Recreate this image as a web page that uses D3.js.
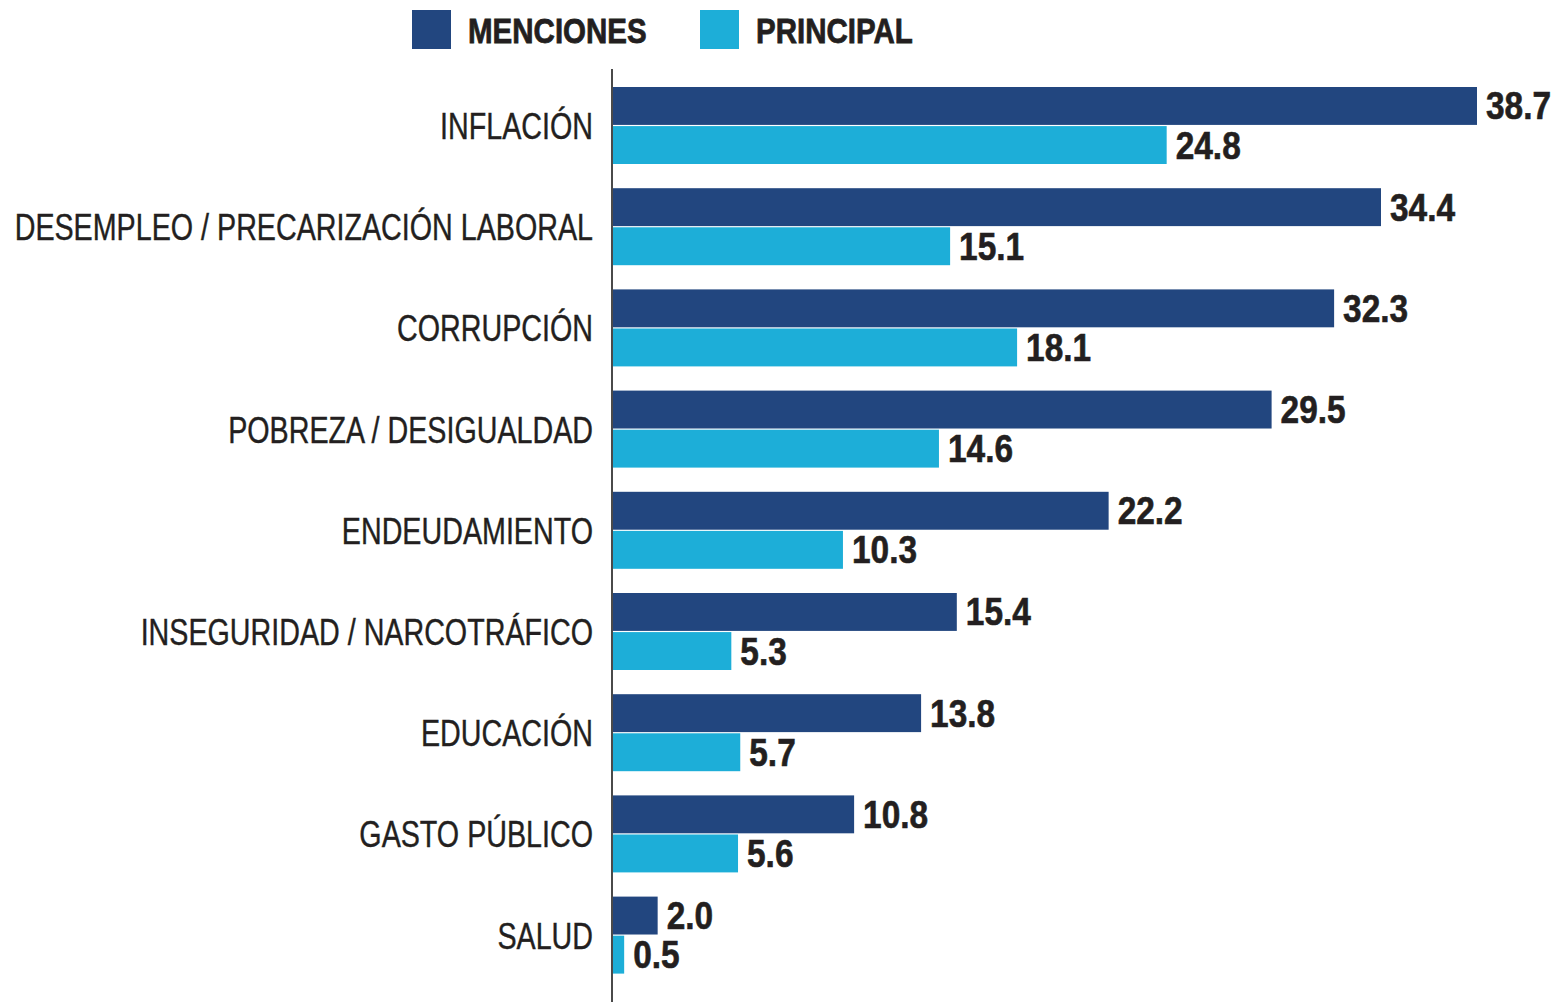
<!DOCTYPE html>
<html>
<head lang="es">
    <meta charset="UTF-8">
    <title>Problemas</title>
    <script type="text/javascript" src="https://cdn.jsdelivr.net/npm/d3@7"></script>
    <style>
        body { margin: 0; background: #fff; }
        svg { display: block; }
    </style>
</head>
<body>
<div class="holder"></div>

<script>
    var categories = ["INFLACIÓN", "DESEMPLEO / PRECARIZACIÓN LABORAL", "CORRUPCIÓN", "POBREZA / DESIGUALDAD",
        "ENDEUDAMIENTO", "INSEGURIDAD / NARCOTRÁFICO", "EDUCACIÓN", "GASTO PÚBLICO", "SALUD"];
    var seriesNames = ["MENCIONES", "PRINCIPAL"];
    var menciones = [38.7, 34.4, 32.3, 29.5, 22.2, 15.4, 13.8, 10.8, 2.0];
    var principal = [24.8, 15.1, 18.1, 14.6, 10.3, 5.3, 5.7, 5.6, 0.5];
    var colors = ["#22467f", "#1daed8"];

    var W = 1561, H = 1002;
    var axisX = 613;
    var textColor = "#231f20";
    var font = "'Liberation Sans', Arial, sans-serif";

    var svg = d3.select(".holder")
            .append("svg")
            .attr("width", W)
            .attr("height", H);

    var x = d3.scaleLinear().domain([0, 38.7]).range([axisX, 1477]);

    var y = d3.scaleBand()
            .domain(categories)
            .range([87, 87 + 9 * 101.2 - 24.2])
            .paddingInner(24.2 / 101.2)
            .paddingOuter(0);

    var ySub = d3.scaleBand()
            .domain(seriesNames)
            .range([0, y.bandwidth()])
            .paddingInner(0.03);

    var rows = categories.map(function(c, i) {
        return {cat: c, values: [
            {key: seriesNames[0], v: menciones[i]},
            {key: seriesNames[1], v: principal[i]}
        ]};
    });

    var groups = svg.selectAll("g.row")
            .data(rows)
            .enter()
            .append("g")
            .attr("class", "row")
            .attr("transform", function(d) { return "translate(0," + y(d.cat) + ")"; });

    groups.selectAll("rect")
            .data(function(d) { return d.values; })
            .enter()
            .append("rect")
            .attr("x", axisX)
            .attr("y", function(d) { return ySub(d.key); })
            .attr("width", function(d) { return x(d.v) - axisX; })
            .attr("height", ySub.bandwidth())
            .attr("fill", function(d, i) { return colors[i]; });

    // value labels - squeezed bold to look like a condensed black face
    groups.selectAll("text.val")
            .data(function(d) { return d.values; })
            .enter()
            .append("text")
            .attr("class", "val")
            .attr("transform", function(d) {
                return "translate(" + (x(d.v) + 9) + "," + (ySub(d.key) + ySub.bandwidth() / 2 + 13.5) + ") scale(0.88,1)";
            })
            .attr("font-family", font)
            .attr("font-weight", "bold")
            .attr("font-size", 38)
            .attr("fill", textColor)
            .attr("stroke", textColor)
            .attr("stroke-width", 0.6)
            .text(function(d) { return d.v.toFixed(1); });

    // category labels (condensed)
    groups.append("text")
            .attr("transform", "translate(593," + (y.bandwidth() / 2 + 13.5) + ") scale(0.775,1)")
            .attr("text-anchor", "end")
            .attr("font-family", font)
            .attr("font-size", 37)
            .attr("fill", textColor)
            .attr("stroke", textColor)
            .attr("stroke-width", 0.4)
            .text(function(d) { return d.cat; });

    // axis line
    svg.append("line")
            .attr("x1", 612).attr("x2", 612)
            .attr("y1", 69).attr("y2", H)
            .attr("stroke", "#4a4a4a")
            .attr("stroke-width", 2);

    // legend
    var legendX = [412, 700];
    var legend = svg.selectAll("g.legend")
            .data(seriesNames)
            .enter()
            .append("g")
            .attr("class", "legend")
            .attr("transform", function(d, i) { return "translate(" + legendX[i] + ",10)"; });

    legend.append("rect")
            .attr("width", 39)
            .attr("height", 39)
            .attr("fill", function(d, i) { return colors[i]; });

    legend.append("text")
            .attr("transform", "translate(56,33) scale(0.82,1)")
            .attr("font-family", font)
            .attr("font-weight", "bold")
            .attr("font-size", 36)
            .attr("fill", textColor)
            .attr("stroke", textColor)
            .attr("stroke-width", 0.8)
            .text(function(d) { return d; });
</script>
</body>
</html>
